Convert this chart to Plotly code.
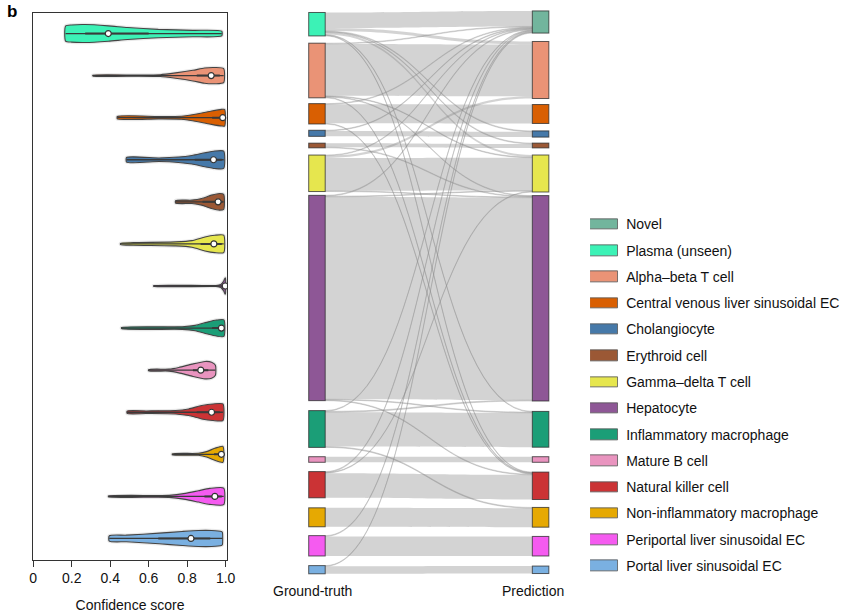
import plotly.graph_objects as go

W, H = 865, 613

# ---------------- data ----------------
ground_truth = ["Plasma (unseen)", "Alpha–beta T cell", "Central venous liver sinusoidal EC",
                "Cholangiocyte", "Erythroid cell", "Gamma–delta T cell", "Hepatocyte",
                "Inflammatory macrophage", "Mature B cell", "Natural killer cell",
                "Non-inflammatory macrophage", "Periportal liver sinusoidal EC",
                "Portal liver sinusoidal EC"]
prediction = ["Novel"] + ground_truth[1:]
legend_labels = ["Novel"] + ground_truth

colors = {
    "Novel": "#72b59d",
    "Plasma (unseen)": "#3cf2b6",
    "Alpha–beta T cell": "#ea9376",
    "Central venous liver sinusoidal EC": "#d95f02",
    "Cholangiocyte": "#4679a9",
    "Erythroid cell": "#9b5835",
    "Gamma–delta T cell": "#e6e64e",
    "Hepatocyte": "#8e5796",
    "Inflammatory macrophage": "#1b9e77",
    "Mature B cell": "#e994bf",
    "Natural killer cell": "#cb3335",
    "Non-inflammatory macrophage": "#e6a902",
    "Periportal liver sinusoidal EC": "#f55bf0",
    "Portal liver sinusoidal EC": "#7ab0e1",
}

# violin profiles: confidence score positions and half-width (density)
violin_score = [
    [0.168, 0.20, 0.27, 0.39, 0.49, 0.65, 0.83, 0.98],
    [0.31, 0.55, 0.66, 0.74, 0.83, 0.89, 0.945, 0.99],
    [0.437, 0.65, 0.77, 0.857, 0.927, 0.978, 0.995],
    [0.485, 0.655, 0.755, 0.825, 0.893, 0.944, 0.99],
    [0.74, 0.825, 0.876, 0.927, 0.969, 0.99],
    [0.454, 0.52, 0.74, 0.825, 0.893, 0.944, 0.99],
    [0.626, 0.95, 0.975, 0.99, 0.998, 1.0],
    [0.459, 0.774, 0.842, 0.901, 0.952, 0.991],
    [0.60, 0.706, 0.757, 0.825, 0.893, 0.927, 0.947],
    [0.488, 0.587, 0.74, 0.808, 0.876, 0.935, 0.986],
    [0.723, 0.859, 0.901, 0.944, 0.986],
    [0.391, 0.706, 0.791, 0.859, 0.918, 0.99],
    [0.395, 0.485, 0.655, 0.774, 0.859, 0.927, 0.978, 0.983],
]
violin_density = [
    [7.5, 8.6, 9.0, 7.7, 6.0, 4.2, 3.2, 2.3],
    [0.4, 0.5, 0.9, 2.7, 5.3, 7.6, 8.1, 7.0],
    [1.2, 1.2, 1.5, 4.0, 6.7, 8.3, 8.3],
    [2.3, 1.8, 2.7, 4.3, 7.0, 8.7, 8.7],
    [1.3, 1.7, 3.3, 6.7, 8.3, 7.5],
    [0.6, 1.3, 2.0, 3.3, 7.0, 8.7, 8.7],
    [0.4, 0.5, 1.5, 5.0, 8.3, 7.0],
    [0.6, 1.3, 2.7, 5.7, 8.0, 8.3],
    [0.6, 1.0, 2.7, 6.0, 8.7, 8.0, 5.0],
    [1.2, 1.3, 1.7, 3.3, 6.7, 8.3, 8.3],
    [0.5, 1.0, 2.7, 6.0, 8.0],
    [0.4, 1.0, 3.0, 5.7, 8.0, 8.3],
    [2.7, 3.3, 5.3, 7.0, 8.0, 8.0, 7.0, 6.3],
]
median_score = [0.39, 0.925, 0.985, 0.937, 0.961, 0.939, 0.998, 0.978, 0.871, 0.927, 0.978, 0.944, 0.82]
q1_score = [0.27, 0.85, 0.93, 0.84, 0.88, 0.87, 0.995, 0.93, 0.83, 0.85, 0.94, 0.89, 0.65]
q3_score = [0.60, 0.97, 0.995, 0.98, 0.985, 0.98, 1.0, 0.99, 0.91, 0.97, 0.99, 0.98, 0.92]

tick_vals = [0, 0.2, 0.4, 0.6, 0.8, 1.0]
tick_text = ["0", "0.2", "0.4", "0.6", "0.8", "1.0"]

# sankey flows: ground-truth -> prediction
flow_source = ["Plasma (unseen)"] * 7 + ["Alpha–beta T cell"] * 5 + \
    ["Central venous liver sinusoidal EC"] * 3 + ["Cholangiocyte"] * 2 + ["Erythroid cell"] * 2 + \
    ["Gamma–delta T cell"] * 4 + ["Hepatocyte"] * 5 + ["Inflammatory macrophage"] * 4 + \
    ["Mature B cell"] + ["Natural killer cell"] * 3 + ["Non-inflammatory macrophage"] + \
    ["Periportal liver sinusoidal EC"] * 2 + ["Portal liver sinusoidal EC"] * 2
flow_target = [
    "Novel", "Alpha–beta T cell", "Gamma–delta T cell", "Cholangiocyte", "Erythroid cell",
    "Natural killer cell", "Inflammatory macrophage",
    "Alpha–beta T cell", "Novel", "Gamma–delta T cell", "Natural killer cell", "Hepatocyte",
    "Central venous liver sinusoidal EC", "Novel", "Natural killer cell",
    "Cholangiocyte", "Novel",
    "Erythroid cell", "Hepatocyte",
    "Gamma–delta T cell", "Alpha–beta T cell", "Novel", "Hepatocyte",
    "Hepatocyte", "Novel", "Natural killer cell", "Inflammatory macrophage", "Gamma–delta T cell",
    "Inflammatory macrophage", "Novel", "Hepatocyte", "Non-inflammatory macrophage",
    "Mature B cell",
    "Natural killer cell", "Novel", "Gamma–delta T cell",
    "Non-inflammatory macrophage",
    "Periportal liver sinusoidal EC", "Novel",
    "Portal liver sinusoidal EC", "Novel",
]
flow_value = [
    15.5, 3, 2, 0.8, 0.8, 0.7, 0.7,
    52, 0.7, 0.7, 0.7, 0.7,
    19.0, 0.7, 0.7,
    5.4, 0.7,
    4.0, 0.7,
    33, 2.2, 0.7, 0.7,
    203.0, 0.8, 0.7, 0.7, 0.7,
    34.5, 0.7, 0.9, 0.8,
    5.6,
    24.7, 0.9, 0.7,
    19,
    19.6, 0.8,
    7.5, 0.7,
]

# ---------------- layout helpers (pixels -> paper) ----------------
def px(x):
    return x / W

def py(y):
    return 1 - y / H

FONT = "Liberation Sans, Arial, sans-serif"
ROW_PX = (559.5 - 12.5) / 13.0

fig = go.Figure()

# ---------------- violins ----------------
for i, cat in enumerate(ground_truth):
    xs = violin_score[i]
    half = [w / ROW_PX for w in violin_density[i]]
    vx = xs + xs[::-1]
    vy = [i + h for h in half] + [i - h for h in half[::-1]]
    vx.append(vx[0]); vy.append(vy[0])
    fig.add_trace(go.Scatter(x=vx, y=vy, mode="lines", hoverinfo="skip", showlegend=False,
                             line=dict(color="rgba(0,0,0,0.09)", width=3.5, shape="spline", smoothing=0.6),
                             xaxis="x", yaxis="y"))
    fig.add_trace(go.Scatter(x=vx, y=vy, mode="lines", fill="toself", fillcolor=colors[cat],
                             hoverinfo="skip", showlegend=False,
                             line=dict(color="#444444", width=1.1, shape="spline", smoothing=0.6),
                             xaxis="x", yaxis="y"))
    fig.add_trace(go.Scatter(x=[xs[0], xs[-1]], y=[i, i], mode="lines", hoverinfo="skip",
                             showlegend=False, line=dict(color="#3a3a3a", width=1.3),
                             xaxis="x", yaxis="y"))
    fig.add_trace(go.Scatter(x=[q1_score[i], q3_score[i]], y=[i, i], mode="lines", hoverinfo="skip",
                             showlegend=False, line=dict(color="#3a3a3a", width=2.0),
                             xaxis="x", yaxis="y"))
    fig.add_trace(go.Scatter(x=[median_score[i]], y=[i], mode="markers", hoverinfo="skip",
                             showlegend=False,
                             marker=dict(color="white", size=6, line=dict(color="#333333", width=1.2)),
                             xaxis="x", yaxis="y"))

# ---------------- sankey ----------------
node_labels = ground_truth + prediction
node_colors = [colors[c] for c in node_labels]
src_idx = [ground_truth.index(s) for s in flow_source]
tgt_idx = [len(ground_truth) + prediction.index(t) for t in flow_target]

# node centre positions (pixels from top of figure), layout only
left_centre_px = [24.2, 70.5, 113.8, 133.3, 145.5, 173.3, 298.0, 429.0, 459.5, 484.7, 517.3, 545.8, 569.7]
right_centre_px = [22.0, 70.0, 114.0, 134.0, 145.5, 173.5, 298.3, 429.3, 459.5, 485.8, 517.3, 546.2, 569.8]
SK_TOP, SK_BOT = 12.0, 575.0
node_y = [(c - SK_TOP) / (SK_BOT - SK_TOP) for c in left_centre_px + right_centre_px]
node_x = [0.001] * len(ground_truth) + [0.999] * len(prediction)

link_colors = ["rgba(128,128,128,0.35)" if v >= 1 else "rgba(140,140,140,0.30)" for v in flow_value]

fig.add_trace(go.Sankey(
    arrangement="fixed",
    domain=dict(x=[px(317.5), px(545.0)], y=[py(SK_BOT), py(SK_TOP)]),
    node=dict(label=[""] * len(node_labels), color=node_colors, x=node_x, y=node_y,
              pad=8, thickness=16.5, line=dict(color="rgba(40,40,40,0.75)", width=1),
              hoverinfo="none"),
    link=dict(source=src_idx, target=tgt_idx, value=flow_value, color=link_colors,
              line=dict(width=0), hoverinfo="none"),
))

# ---------------- legend (as bars on a hidden axis) ----------------
LEG_TOP_C, LEG_STEP = 224.5, 26.27
leg_top = LEG_TOP_C - LEG_STEP / 2
leg_bot = leg_top + LEG_STEP * len(legend_labels)
fig.add_trace(go.Bar(
    y=list(range(len(legend_labels))), x=[1] * len(legend_labels), orientation="h",
    width=0.40, marker=dict(color=[colors[c] for c in legend_labels],
                            line=dict(color="rgba(90,90,90,0.85)", width=1)),
    hoverinfo="skip", showlegend=False, xaxis="x3", yaxis="y3"))

fig.update_layout(
    width=W, height=H,
    margin=dict(l=0, r=0, t=0, b=0),
    paper_bgcolor="white", plot_bgcolor="white",
    font=dict(family=FONT, size=14, color="#111111"),
    showlegend=False,
    xaxis=dict(domain=[px(29.7), px(226.3)], range=[0, 1.0067], tickvals=tick_vals, ticktext=tick_text,
               ticks="outside", ticklen=6, tickwidth=1, tickcolor="#333333",
               showline=True, linecolor="#333333", linewidth=1, mirror=True,
               showgrid=False, zeroline=False, tickfont=dict(size=14),
               title=dict(text="Confidence score", font=dict(size=14), standoff=14),
               anchor="y", fixedrange=True),
    yaxis=dict(domain=[py(559.5), py(12.5)], range=[12.5, -0.5], showticklabels=False, ticks="",
               showline=True, linecolor="#333333", linewidth=1, mirror=True,
               showgrid=False, zeroline=False, anchor="x", fixedrange=True),
    xaxis3=dict(domain=[px(595), px(623.5)], range=[0, 1], visible=False, anchor="y3", fixedrange=True),
    yaxis3=dict(domain=[py(leg_bot), py(leg_top)], range=[len(legend_labels) - 0.5, -0.5],
                tickvals=list(range(len(legend_labels))), ticktext=legend_labels,
                side="right", anchor="x3", ticks="", showline=False, showgrid=False, zeroline=False,
                ticklabelstandoff=7,
                tickfont=dict(size=14, color="#111111"), fixedrange=True),
    bargap=0,
    annotations=[
        dict(text="<b>b</b>", x=px(1), y=py(0), xref="paper", yref="paper", xanchor="left",
             yanchor="top", showarrow=False, font=dict(size=17, family=FONT, color="black")),
        dict(text="Ground-truth", x=px(313), y=py(591), xref="paper", yref="paper",
             xanchor="center", yanchor="middle", showarrow=False, font=dict(size=14)),
        dict(text="Prediction", x=px(537), y=py(591), xref="paper", yref="paper",
             xanchor="center", yanchor="middle", showarrow=False, font=dict(size=14)),
    ],
)

fig.write_html("out.html", config={"displayModeBar": False},
               post_script="document.body.style.margin='0';")
